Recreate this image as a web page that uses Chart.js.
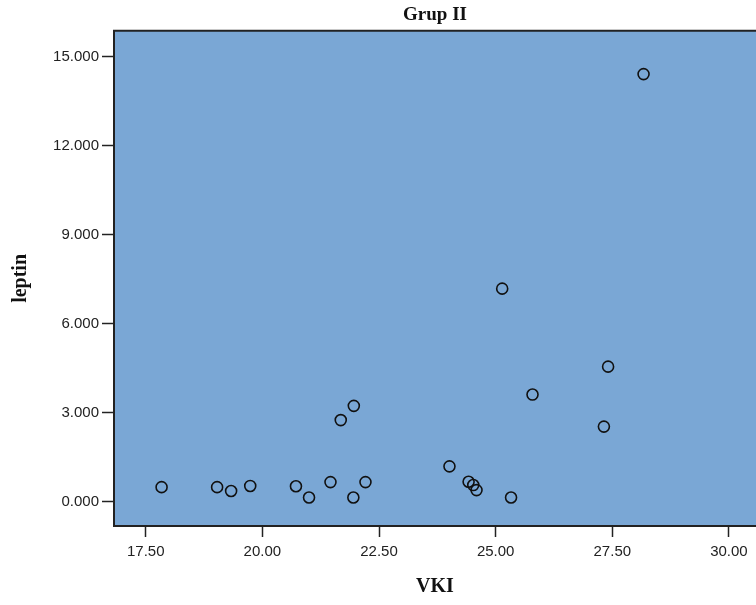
<!DOCTYPE html>
<html>
<head>
<meta charset="utf-8">
<script src="https://cdn.jsdelivr.net/npm/chart.js@4/dist/chart.umd.min.js"></script>
<style>
  body { margin: 0; background: #fff; }
</style>
</head>
<body>
<canvas id="grafico" width="756" height="605"></canvas>
<script>
// VKI (x) ve leptin (y) degerleri
var vki = [17.84, 19.03, 19.33, 19.74, 20.72, 21.00, 21.46, 21.68, 21.96, 21.95, 22.21,
           24.01, 24.42, 24.52, 24.59, 25.14, 25.33, 25.79, 27.32, 27.41, 28.17];
var leptin = [0.49, 0.49, 0.36, 0.53, 0.52, 0.14, 0.66, 2.75, 3.23, 0.14, 0.66,
              1.19, 0.67, 0.56, 0.39, 7.18, 0.14, 3.61, 2.53, 4.55, 14.41];

var xTicks = [17.5, 20, 22.5, 25, 27.5, 30];
var yTicks = [0, 3, 6, 9, 12, 15];

var pontos = [];
for (var i = 0; i < vki.length; i++) {
    pontos.push({ x: vki[i], y: leptin[i] });
}

// fundo azul da area do grafico + linha de cima
var fundoPlugin = {
    id: 'fundo',
    beforeDraw: function (chart) {
        var a = chart.chartArea;
        var ctx = chart.ctx;
        ctx.save();
        ctx.fillStyle = '#7aa7d5';
        ctx.fillRect(a.left, a.top, a.right - a.left, a.bottom - a.top);
        ctx.restore();
    },
    afterDraw: function (chart) {
        var a = chart.chartArea;
        var ctx = chart.ctx;
        ctx.save();
        ctx.strokeStyle = '#222';
        ctx.lineWidth = 2;
        ctx.beginPath();
        ctx.moveTo(a.left - 1, a.top);
        ctx.lineTo(a.right, a.top);
        ctx.stroke();
        ctx.restore();
    }
};

var fonteTick = { family: "'Liberation Sans', Arial, sans-serif", size: 15 };
var fonteTitulo = { family: "'Liberation Serif', 'Times New Roman', serif", size: 20, weight: 'bold' };

new Chart(document.getElementById('grafico'), {
    type: 'scatter',
    data: {
        datasets: [{
            label: 'leptin',
            data: pontos,
            pointStyle: 'circle',
            pointRadius: 5.5,
            pointHoverRadius: 5.5,
            borderWidth: 1.6,
            borderColor: '#111',
            backgroundColor: 'rgba(0,0,0,0)'
        }]
    },
    options: {
        responsive: false,
        animation: false,
        layout: { padding: 0, autoPadding: false },
        plugins: {
            legend: { display: false },
            tooltip: { enabled: false },
            title: {
                display: true,
                text: 'Grup II',
                fullSize: false,
                color: '#111',
                font: { family: "'Liberation Serif', 'Times New Roman', serif", size: 19, weight: 'bold' },
                padding: { top: 4, bottom: 4 }
            }
        },
        scales: {
            x: {
                type: 'linear',
                min: 16.82,
                max: 30.58,
                afterBuildTicks: function (s) {
                    s.ticks = xTicks.map(function (v) { return { value: v }; });
                },
                afterFit: function (s) {
                    s.height = 79;
                    s.paddingRight = 0;
                },
                ticks: {
                    color: '#222',
                    font: fonteTick,
                    padding: 6,
                    maxRotation: 0,
                    callback: function (v) { return Number(v).toFixed(2); }
                },
                grid: {
                    drawOnChartArea: false,
                    drawTicks: true,
                    tickLength: 11,
                    tickWidth: 1.5,
                    tickColor: '#222'
                },
                border: { display: true, color: '#222', width: 2 },
                title: {
                    display: true,
                    text: 'VKI',
                    color: '#111',
                    font: fonteTitulo,
                    padding: { top: 0, bottom: 6 }
                }
            },
            y: {
                type: 'linear',
                min: -0.82,
                max: 15.87,
                afterBuildTicks: function (s) {
                    s.ticks = yTicks.map(function (v) { return { value: v }; });
                },
                afterFit: function (s) { s.width = 114; },
                ticks: {
                    color: '#222',
                    font: fonteTick,
                    padding: 3,
                    callback: function (v) { return Number(v).toFixed(3); }
                },
                grid: {
                    drawOnChartArea: false,
                    drawTicks: true,
                    tickLength: 12,
                    tickWidth: 1.5,
                    tickColor: '#222'
                },
                border: { display: true, color: '#222', width: 2 },
                title: {
                    display: true,
                    text: 'leptin',
                    color: '#111',
                    font: fonteTitulo,
                    padding: { top: 9, bottom: 0 }
                }
            }
        }
    },
    plugins: [fundoPlugin]
});
</script>
</body>
</html>
